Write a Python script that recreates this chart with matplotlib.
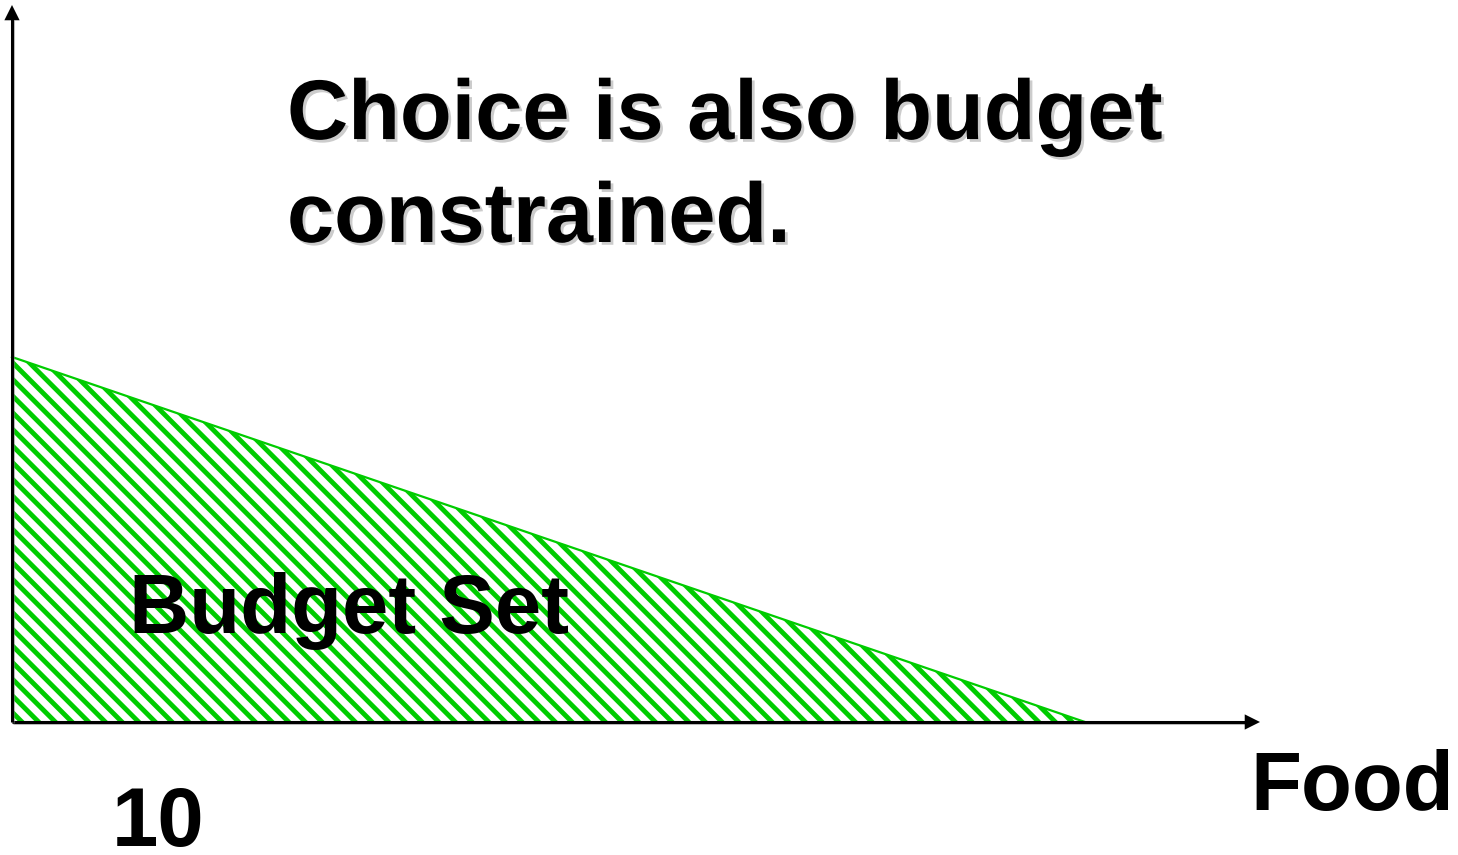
import matplotlib.pyplot as plt
import matplotlib.patheffects as pe

plt.rcParams['font.family'] = ['Liberation Sans', 'DejaVu Sans']
plt.rcParams['hatch.linewidth'] = 3.5

# Budget set: intercepts of the budget line on the two axes
food_axis = [0, 1073]      # food quantity at the corners of the budget set
other_axis = [365, 0]      # other goods at the corners of the budget set
x_axis_end = 1248
y_axis_end = 717

green = '#00cc00'

fig = plt.figure(figsize=(14.58, 8.55), dpi=100)
ax = fig.add_axes([0, 0, 1, 1])
ax.set_xlim(-12, 1446)
ax.set_ylim(-133, 722)
ax.axis('off')

# hatched budget set
tri_x = [food_axis[0], food_axis[0], food_axis[1]]
tri_y = [other_axis[0], 0, other_axis[1]]
ax.fill(tri_x, tri_y, facecolor='white', edgecolor=green, hatch='\\\\', linewidth=0)
ax.plot(food_axis, other_axis, color=green, lw=1.6)

# axes with arrow heads
shadow = [pe.SimpleLineShadow(offset=(0.8, -0.8), shadow_color='gray', alpha=0.5), pe.Normal()]
ax.plot([0, x_axis_end - 14], [0, 0], color='black', lw=2.2, path_effects=shadow,
        solid_capstyle='butt')
ax.plot([0, 0], [0, y_axis_end - 14], color='black', lw=2.2, path_effects=shadow,
        solid_capstyle='butt')
ax.annotate('', xy=(x_axis_end, 0), xytext=(x_axis_end - 16, 0),
            arrowprops=dict(arrowstyle='-|>,head_length=1.1,head_width=0.55',
                            color='black', lw=0, shrinkA=0, shrinkB=0))
ax.annotate('', xy=(0, y_axis_end), xytext=(0, y_axis_end - 16),
            arrowprops=dict(arrowstyle='-|>,head_length=1.1,head_width=0.55',
                            color='black', lw=0, shrinkA=0, shrinkB=0))

# labels
title_fx = [pe.SimplePatchShadow(offset=(2, -2), shadow_rgbFace='gray', alpha=0.4),
            pe.Normal()]
ax.text(275, 480, 'Choice is also budget\nconstrained.', fontsize=61,
        fontweight='bold', va='baseline', ha='left', linespacing=1.37,
        path_effects=title_fx)
ax.text(117, 89, 'Budget Set', fontsize=60, fontweight='bold', va='baseline', ha='left')
ax.text(1238, -88, 'Food', fontsize=60, fontweight='bold', va='baseline', ha='left')
ax.text(100, -124, '10', fontsize=60, fontweight='bold', va='baseline', ha='left')

fig.savefig('out.png', dpi=100)
